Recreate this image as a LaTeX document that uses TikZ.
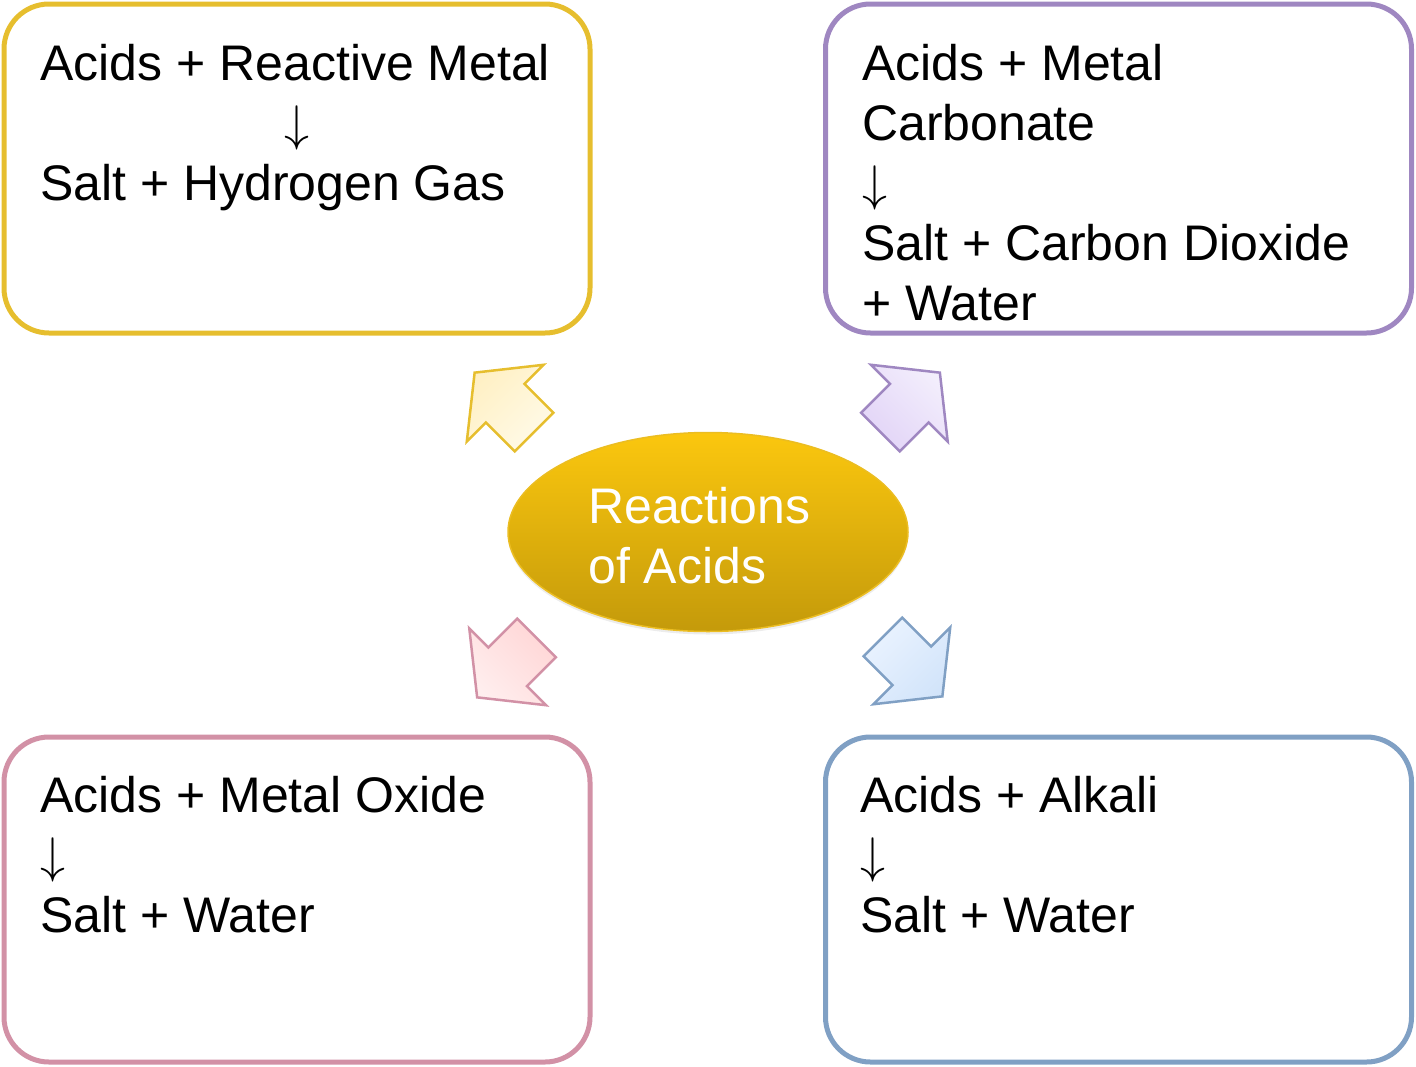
\documentclass[tikz,border=0pt]{standalone}
\usepackage{graphicx}
\usepackage{fontspec}
\setmainfont{Liberation Sans}
\usetikzlibrary{shapes.geometric, shapes.arrows, shadows}

\definecolor{goldline}{HTML}{E6BE2E}
\definecolor{violetline}{HTML}{9F87C1}
\definecolor{roseline}{HTML}{D291A6}
\definecolor{steelline}{HTML}{80A0C4}
\definecolor{goldtop}{HTML}{FFFAE8}
\definecolor{goldbottom}{HTML}{FFF0C4}
\definecolor{violettop}{HTML}{F3EEFC}
\definecolor{violetbottom}{HTML}{E2D4F7}
\definecolor{rosetop}{HTML}{FFEEEE}
\definecolor{rosebottom}{HTML}{FFD6D6}
\definecolor{steeltop}{HTML}{EAF3FF}
\definecolor{steelbottom}{HTML}{D2E4FA}
\definecolor{hubtop}{HTML}{FBC70E}
\definecolor{hubbottom}{HTML}{C49A0B}
\definecolor{hubline}{HTML}{EBBD22}

\newcommand{\yields}{\scalebox{5}{\normalsize$\downarrow$}}

\begin{document}
\begin{tikzpicture}[x=1pt, y=-1pt,
    every node/.style={font=\fontsize{50}{60}\selectfont},
    reactbox/.style={draw, line width=5pt, rounded corners=45pt, minimum width=586pt, inner sep=0pt},
    reacttext/.style={anchor=base west, align=left, inner sep=0pt},
    blockarrow/.style={single arrow, draw, line width=2.5pt, minimum height=84pt,
      single arrow head extend=27pt, single arrow tip angle=103, inner xsep=0pt, inner ysep=26pt}]
  \useasboundingbox (0,0) rectangle (1416,1066);

  % four reaction boxes
  \node[reactbox, draw=goldline, minimum height=329pt] (metalbox) at (297,168.5) {};
  \node[reactbox, draw=violetline, minimum height=329pt] (carbonatebox) at (1118.5,168.5) {};
  \node[reactbox, draw=roseline, minimum height=325pt] (oxidebox) at (297,899.5) {};
  \node[reactbox, draw=steelline, minimum height=325pt] (alkalibox) at (1118.5,899.5) {};

  % text is anchored at the baseline of its last line
  \node[reacttext] (metaltext) at (40,200) {Acids + Reactive Metal\\\hspace*{244pt}\yields\\Salt + Hydrogen Gas};
  \node[reacttext] (carbonatetext) at (862,320) {Acids + Metal\\Carbonate\\\yields\\Salt + Carbon Dioxide\\+ Water};
  \node[reacttext] (oxidetext) at (40,932) {Acids + Metal Oxide\\\yields\\Salt + Water};
  \node[reacttext] (alkalitext) at (860,932) {Acids + Alkali\\\yields\\Salt + Water};

  % centre
  \node[ellipse, draw=hubline, line width=1.5pt, minimum width=400pt, minimum height=199pt,
    top color=hubtop, bottom color=hubbottom,
    drop shadow={opacity=0.15, shadow xshift=0pt, shadow yshift=-3pt}] (hub) at (708,532) {};
  \node[reacttext, text=white] (hubtext) at (588,583) {Reactions\\of Acids};

  % block arrows
  \foreach \name/\pos/\ang/\col in {metalarrow/{(512,410)}/135/gold,
      carbonatearrow/{(902.5,410)}/45/violet,
      oxidearrow/{(514.5,660)}/225/rose,
      alkaliarrow/{(905,659)}/-45/steel} {
    \node[blockarrow, rotate=\ang, draw=\col line, top color=\col top, bottom color=\col bottom,
      shading angle=-\ang] (\name) at \pos {};
  }
\end{tikzpicture}
\end{document}
